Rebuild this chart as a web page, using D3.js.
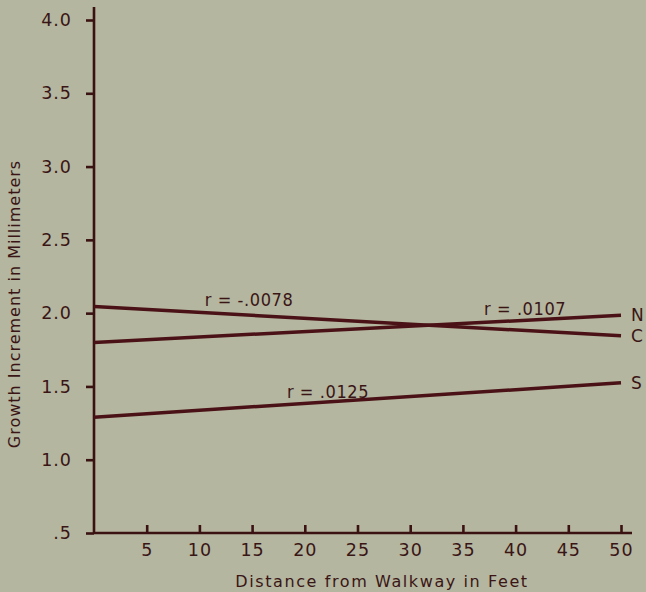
<!DOCTYPE html>
<meta charset="utf-8">
<style>
body { margin: 0; background: #b4b69f; }
svg { display: block; }
text { font-family: "DejaVu Sans", sans-serif; fill: #3a1515; }
.axis path, .axis line { stroke: #3a1212; stroke-width: 2.6px; }
.line { fill: none; stroke: #4a1216; stroke-width: 3.5px; }
</style>
<svg width="646" height="592"></svg>
<script src="https://cdn.jsdelivr.net/npm/d3@7"></script>
<script>

// data: growth increment (mm) vs distance from walkway (ft)
var distance = [0, 50];
var seriesNames = ["N", "C", "S"];
var growthAtStart = [1.80, 2.045, 1.29];
var growthAtEnd = [1.985, 1.845, 1.525];
var rLabels = ["r = .0107", "r = -.0078", "r = .0125"];
var rLabelAt = [37, 10.5, 18.3];   // feet where each r label starts

var yTicks = [0.5, 1.0, 1.5, 2.0, 2.5, 3.0, 3.5, 4.0];
var yTickLabels = [".5", "1.0", "1.5", "2.0", "2.5", "3.0", "3.5", "4.0"];
var xTicks = [5, 10, 15, 20, 25, 30, 35, 40, 45, 50];

var svg = d3.select("svg");

var x = d3.scaleLinear().domain([0, 50]).range([94, 621]),
    y = d3.scaleLinear().domain([0.5, 4.0]).range([533, 20]);

var series = seriesNames.map(function(name, i) {
  return {
    name: name,
    r: rLabels[i],
    rAt: rLabelAt[i],
    values: [
      {d: distance[0], g: growthAtStart[i]},
      {d: distance[1], g: growthAtEnd[i]}
    ]
  };
});

var line = d3.line()
    .x(function(d) { return x(d.d); })
    .y(function(d) { return y(d.g); });

// y axis
var yAxis = svg.append("g")
    .attr("class", "axis")
    .attr("transform", "translate(" + x(0) + ",0)")
    .call(d3.axisLeft(y).tickValues(yTicks).tickSize(8).tickSizeOuter(0)
      .tickFormat(function(d, i) { return yTickLabels[i]; }));
yAxis.select(".domain").attr("d", "M0," + 7 + "V" + y(0.5));
yAxis.selectAll("text")
    .attr("x", -22)
    .style("font-size", "17.5px")
    .style("letter-spacing", "1px")
    .attr("fill", "#3a1515");

// x axis, ticks point up into the plot
var xAxis = svg.append("g")
    .attr("class", "axis")
    .attr("transform", "translate(0," + y(0.5) + ")")
    .call(d3.axisTop(x).tickValues(xTicks).tickSize(8).tickSizeOuter(0));
xAxis.select(".domain").attr("d", "M" + x(0) + ",0H" + (x(50) + 11));
xAxis.selectAll("text")
    .attr("y", 23)
    .attr("dy", "0")
    .style("font-size", "17.5px")
    .style("letter-spacing", "1px")
    .attr("fill", "#3a1515");

// regression lines
var g = svg.selectAll(".series")
  .data(series)
  .enter().append("g")
    .attr("class", "series");

g.append("path")
    .attr("class", "line")
    .attr("d", function(d) { return line(d.values); });

g.append("text")
    .attr("x", x(50) + 10)
    .attr("y", function(d) { return y(d.values[1].g); })
    .attr("dy", "0.36em")
    .style("font-size", "17px")
    .text(function(d) { return d.name; });

g.append("text")
    .attr("x", function(d) { return x(d.rAt); })
    .attr("y", function(d) {
      var v = d.values[0].g + (d.values[1].g - d.values[0].g) * d.rAt / 50;
      return y(v) - 7;
    })
    .style("font-family", "'DejaVu Sans Condensed', 'DejaVu Sans', sans-serif")
    .style("font-size", "18px")
    .style("letter-spacing", "0.6px")
    .text(function(d) { return d.r; });

// axis titles
svg.append("text")
    .attr("transform", "translate(20," + 304 + ")rotate(-90)")
    .attr("text-anchor", "middle")
    .style("font-size", "16px")
    .style("letter-spacing", "1px")
    .text("Growth Increment in Millimeters");

svg.append("text")
    .attr("x", 382)
    .attr("y", 587)
    .attr("text-anchor", "middle")
    .style("font-size", "16px")
    .style("letter-spacing", "1.6px")
    .text("Distance from Walkway in Feet");

</script>
